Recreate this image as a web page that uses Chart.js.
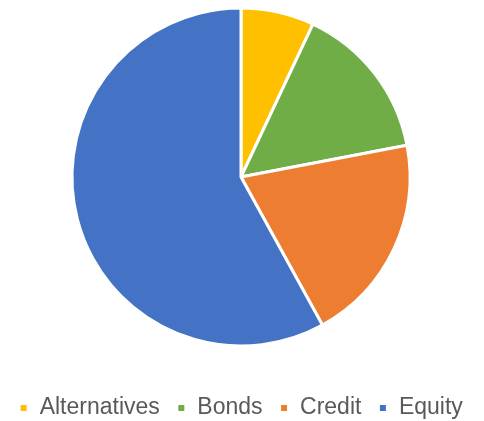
<!DOCTYPE html>
<html>
<head>
<meta charset="utf-8">
<script src="https://cdn.jsdelivr.net/npm/chart.js@4/dist/chart.umd.min.js"></script>
<style>
  html, body { margin: 0; padding: 0; background: #fff; }
  #wrap { width: 484px; height: 421px; }
</style>
</head>
<body>
<div id="wrap"><canvas id="allocation-chart"></canvas></div>
<script>
const categories = ['Alternatives', 'Bonds', 'Credit', 'Equity']
const weights = [7, 15, 20, 58]
const sliceColors = ['#FFC000', '#70AD47', '#ED7D31', '#4472C4']

const ctx = document.getElementById('allocation-chart').getContext('2d')

new Chart(ctx, {
  type: 'pie',
  data: {
    labels: categories,
    datasets: [{
      data: weights,
      backgroundColor: sliceColors,
      borderColor: '#ffffff',
      borderWidth: 3,
    }]
  },
  options: {
    responsive: true,
    maintainAspectRatio: false,
    animation: false,
    events: [],
    radius: 169,
    layout: {
      padding: { top: 0, bottom: -8.5, left: 0, right: 2 }
    },
    plugins: {
      tooltip: { enabled: false },
      legend: {
        position: 'bottom',
        // empty title just adds space between the pie and the legend row
        title: {
          display: true,
          text: '',
          font: { size: 10, lineHeight: 1.2 },
          padding: { top: 13.5, bottom: 0 }
        },
        labels: {
          boxWidth: 9,
          boxHeight: 9,
          padding: 17,
          color: '#595959',
          font: { family: '"Liberation Sans", Arial, sans-serif', size: 23 }
        }
      }
    }
  }
})
</script>
</body>
</html>
